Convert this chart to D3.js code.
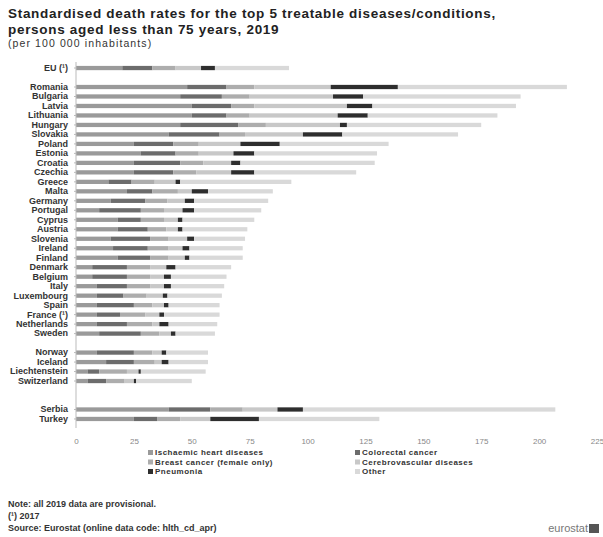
<!DOCTYPE html>
<html>
<head>
<meta charset="utf-8">
<script src="https://cdn.jsdelivr.net/npm/d3@7"></script>
<style>
  body { margin: 0; background: #fff; }
  svg { font-family: "Liberation Sans", Arial, sans-serif; }
</style>
</head>
<body>
<svg id="chart" width="603" height="537"></svg>
<script>
// rows, "" = empty spacer row
var countries = ["EU (\u00b9)", "", "Romania", "Bulgaria", "Latvia", "Lithuania", "Hungary", "Slovakia", "Poland", "Estonia", "Croatia", "Czechia", "Greece", "Malta", "Germany", "Portugal", "Cyprus", "Austria", "Slovenia", "Ireland", "Finland", "Denmark", "Belgium", "Italy", "Luxembourg", "Spain", "France (\u00b9)", "Netherlands", "Sweden", "", "Norway", "Iceland", "Liechtenstein", "Switzerland", "", "", "Serbia", "Turkey"];

var ischaemic    = [20, null, 48, 45, 50, 50, 45, 40, 25, 28, 25, 25, 14, 22, 15, 10, 18, 18, 15, 16, 18, 7, 7, 9, 9, 9, 9, 9, 10, null, 9, 13, 5, 5, null, null, 40, 25];
var colorectal   = [13, null, 17, 18, 17, 15, 25, 22, 17, 15, 20, 17, 10, 11, 15, 18, 10, 13, 17, 15, 14, 15, 15, 13, 11.5, 16, 10, 13, 18, null, 16, 12, 5, 8, null, null, 18, 10];
var breast       = [10, null, 12, 12, 10, 10, 12, 11, 11, 10, 10, 10, 10, 11, 9.5, 10, 10, 8, 8, 9, 8, 10, 10, 10, 10, 8, 11, 11, 8, null, 8, 9, 12, 8, null, null, 14, 10];
var cerebro      = [11, null, 33, 36, 40, 38, 32, 25, 18, 15, 12, 15, 9, 6, 7.5, 8, 6, 5, 8, 6, 7, 7, 6, 6, 7, 5, 6, 3, 5, null, 4, 3, 5, 4, null, null, 15, 13];
var pneumonia    = [6, null, 29, 13, 11, 13, 3, 17, 17, 9, 4, 10, 2, 7, 4, 5, 2, 2, 3, 3, 2, 4, 3, 3, 2, 2, 2, 4, 2, null, 2, 3, 1, 1, null, null, 11, 21];
var other        = [32, null, 73, 68, 62, 56, 58, 50, 47, 53, 58, 44, 48, 28, 32, 29, 31, 28, 22, 23, 23, 24, 24, 23, 23.5, 22, 24, 21, 17, null, 18, 17, 28, 24, null, null, 109, 52];

var xTicks = [0, 25, 50, 75, 100, 125, 150, 175, 200, 225];

var seriesKeys = ["ischaemic", "colorectal", "breast", "cerebro", "pneumonia", "other"];
var seriesNames = ["Ischaemic heart diseases", "Colorectal cancer", "Breast cancer (female only)", "Cerebrovascular diseases", "Pneumonia", "Other"];
var seriesColors = ["#9a9a9a", "#6c6c6c", "#adadad", "#c8c8c8", "#2e2e2e", "#d9d9d9"];

var rows = countries.map(function(c, i) {
  return {
    idx: i, name: c,
    ischaemic: ischaemic[i] || 0, colorectal: colorectal[i] || 0, breast: breast[i] || 0,
    cerebro: cerebro[i] || 0, pneumonia: pneumonia[i] || 0, other: other[i] || 0
  };
});

var svg = d3.select("#chart");

var x = d3.scaleLinear().domain([0, 225]).range([76, 597]);
var y = d3.scaleBand()
  .domain(d3.range(countries.length))
  .range([64, 423])
  .paddingInner(0.55)
  .paddingOuter(0.2);

var color = d3.scaleOrdinal().domain(seriesKeys).range(seriesColors);

var stacked = d3.stack().keys(seriesKeys)(rows);

svg.append("g").selectAll("g")
  .data(stacked)
  .join("g")
    .attr("fill", function(d) { return color(d.key); })
  .selectAll("rect")
  .data(function(d) { return d.filter(function(p) { return p.data.name !== ""; }); })
  .join("rect")
    .attr("x", function(d) { return x(d[0]); })
    .attr("y", function(d) { return y(d.data.idx); })
    .attr("width", function(d) { return Math.max(0, x(d[1]) - x(d[0])); })
    .attr("height", y.bandwidth());

// y axis
var yAxis = d3.axisLeft(y)
  .tickSize(2)
  .tickPadding(6)
  .tickFormat(function(i) { return countries[i]; });

var yg = svg.append("g")
  .attr("transform", "translate(76,0)")
  .call(yAxis);
yg.select(".domain").attr("stroke", "#bbb").attr("d", "M0,62V428");
yg.selectAll(".tick line").attr("stroke", "#bbb");
yg.selectAll(".tick").filter(function(i) { return countries[i] === ""; }).select("line").remove();
yg.selectAll("text").attr("fill", "#333").style("font-size", "9px").style("font-weight", "bold");

// x axis labels
var xg = svg.append("g")
  .attr("transform", "translate(0,432)")
  .call(d3.axisBottom(x).tickValues(xTicks).tickSize(0).tickPadding(6));
xg.select(".domain").remove();
xg.selectAll("text").attr("fill", "#888").style("font-size", "8px");

// title
svg.append("text").attr("x", 8).attr("y", 18)
  .style("font-size", "13.5px").style("font-weight", "bold").style("letter-spacing", "0.7px").attr("fill", "#222")
  .text("Standardised death rates for the top 5 treatable diseases/conditions,");
svg.append("text").attr("x", 8).attr("y", 34)
  .style("font-size", "13.5px").style("font-weight", "bold").style("letter-spacing", "0.7px").attr("fill", "#222")
  .text("persons aged less than 75 years, 2019");
svg.append("text").attr("x", 8).attr("y", 47)
  .style("font-size", "10.5px").style("letter-spacing", "1.1px").attr("fill", "#333")
  .text("(per 100 000 inhabitants)");

// legend
var legendPos = [[148, 455], [355, 455], [148, 464.5], [355, 464.5], [148, 474], [355, 474]];
var lg = svg.append("g").selectAll("g")
  .data(seriesKeys)
  .join("g")
    .attr("transform", function(d, i) { return "translate(" + legendPos[i][0] + "," + legendPos[i][1] + ")"; });
lg.append("rect")
  .attr("x", 0).attr("y", -5).attr("width", 5).attr("height", 5)
  .attr("fill", function(d) { return color(d); });
lg.append("text")
  .attr("x", 7).attr("y", 0)
  .style("font-size", "8px").style("font-weight", "bold").style("letter-spacing", "0.5px").attr("fill", "#333")
  .text(function(d, i) { return seriesNames[i]; });

// notes
svg.append("text").attr("x", 8).attr("y", 507)
  .style("font-size", "9px").style("font-weight", "bold").attr("fill", "#333")
  .text("Note: all 2019 data are provisional.");
svg.append("text").attr("x", 8).attr("y", 519)
  .style("font-size", "9px").style("font-weight", "bold").attr("fill", "#333")
  .text("(\u00b9) 2017");
svg.append("text").attr("x", 8).attr("y", 531)
  .style("font-size", "9px").style("font-weight", "bold").attr("fill", "#333")
  .text("Source: Eurostat (online data code: hlth_cd_apr)");

// logo
svg.append("text").attr("x", 588).attr("y", 532).attr("text-anchor", "end")
  .style("font-size", "11px").attr("fill", "#777")
  .text("eurostat");
svg.append("rect").attr("x", 589).attr("y", 524).attr("width", 10).attr("height", 9).attr("fill", "#555");
</script>
</body>
</html>
